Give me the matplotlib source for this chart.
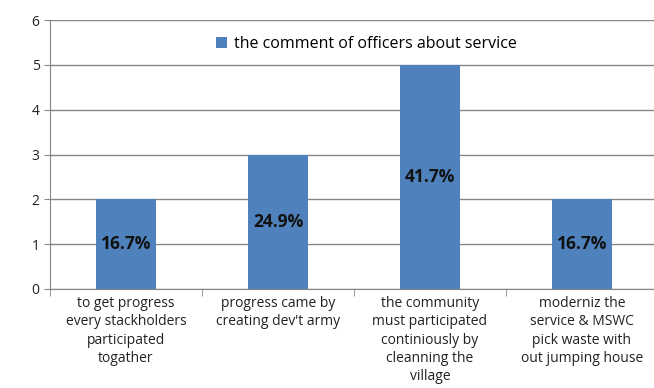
import numpy as np
import matplotlib.pyplot as plt

categories = [
    "to get progress\nevery stackholders\nparticipated\ntogather",
    "progress came by\ncreating dev't army",
    "the community\nmust participated\ncontiniously by\ncleanning the\nvillage",
    "moderniz the\nservice & MSWC\npick waste with\nout jumping house",
]
values = [2, 3, 5, 2]
pct_labels = ["16.7%", "24.9%", "41.7%", "16.7%"]
series_name = "the comment of officers about service"

plt.rcParams['font.family'] = ['Open Sans', 'DejaVu Sans']

fig = plt.figure(figsize=(6.54, 3.88), dpi=100)
ax = fig.add_axes([50 / 654, 1 - 289 / 388, 608 / 654, 269 / 388])

x = np.arange(len(values))
bars = ax.bar(x, values, width=0.4, color='#4f81bd', zorder=3, label=series_name)
for xi, v, lab in zip(x, values, pct_labels):
    ax.text(xi, v / 2, lab, ha='center', va='center', fontsize=12.5,
            fontweight='bold', color='#111111', zorder=4)

ax.set_xlim(-0.5, len(values) - 0.5)
ax.set_ylim(0, 6)
ax.set_yticks(range(7))
ax.yaxis.grid(True, color='#868686', lw=1.0, zorder=0)
ax.set_axisbelow(True)

ax.set_xticks(x)
ax.set_xticklabels(categories, fontsize=10, linespacing=1.3, color='#222222')
ax.tick_params(axis='x', length=0, pad=5)
ax.set_xticks(np.arange(-0.5, len(values), 1), minor=True)
ax.tick_params(axis='x', which='minor', length=5, color='#868686', direction='out')
ax.tick_params(axis='y', length=4, color='#868686', labelsize=10, labelcolor='#222222')

for s in ['top', 'right']:
    ax.spines[s].set_visible(False)
for s in ['left', 'bottom']:
    ax.spines[s].set_color('#868686')

ax.legend(loc='upper center', bbox_to_anchor=(0.52, 0.995), frameon=False,
          fontsize=11.5, handlelength=0.7, handleheight=0.7, handletextpad=0.4)

fig.savefig('out.png', dpi=100)
